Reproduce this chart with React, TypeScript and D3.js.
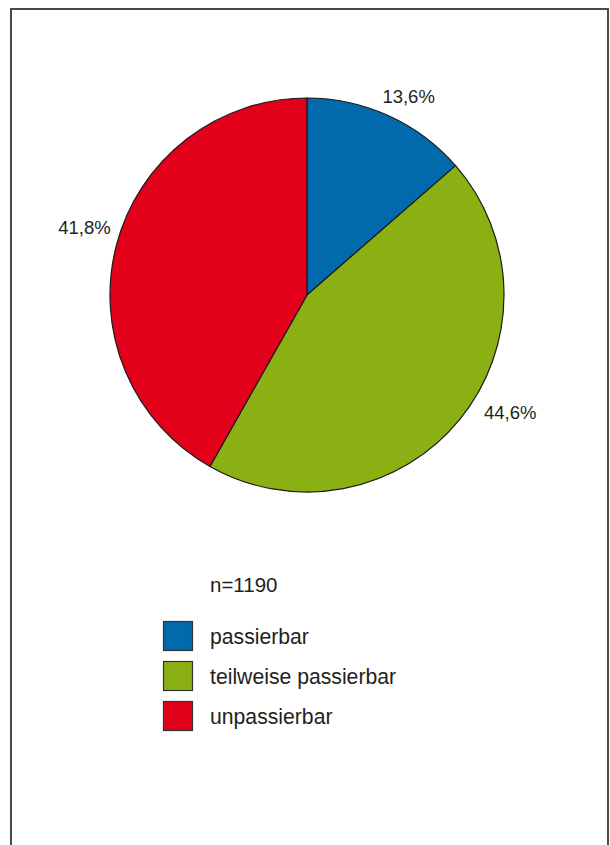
import React from "react";
import * as d3 from "d3";

const categories = ["passierbar", "teilweise passierbar", "unpassierbar"];
const values = [13.6, 44.6, 41.8];
const valueLabels = ["13,6%", "44,6%", "41,8%"];
const colors = ["#006AAC", "#8AB013", "#E2001A"];
const sampleLabel = "n=1190";
// small angular nudge (degrees) and radius for label placement
const labelAngleNudge = [2.5, -9.5, 2.5];
const labelRadius = [224, 234, 233];

const W = 610;
const H = 845;
const cx = 307;
const cy = 295;
const R = 197;

export default function App() {
  const pie = d3.pie<number>().sort(null).value((d) => d)(values);
  const arc = d3.arc<d3.PieArcDatum<number>>().innerRadius(0).outerRadius(R);
  const textColor = "#231F20";
  const font = "'Liberation Sans', Arial, sans-serif";

  return (
    <svg
      width={W}
      height={H}
      style={{ position: "absolute", left: 0, top: 0, background: "#fff" }}
      fontFamily={font}
    >
      <rect x={0} y={0} width={W} height={H} fill="#fff" />
      <rect x={11} y={9} width={597} height={H} fill="none" stroke="#4a4a4a" strokeWidth={2} />
      <g transform={`translate(${cx},${cy})`}>
        {pie.map((p, i) => (
          <path key={i} d={arc(p) || ""} fill={colors[i]} stroke="#1a1a1a" strokeWidth={1.2} />
        ))}
        {pie.map((p, i) => {
          const mid = (p.startAngle + p.endAngle) / 2 + (labelAngleNudge[i] * Math.PI) / 180;
          const x = Math.sin(mid) * labelRadius[i];
          const y = -Math.cos(mid) * labelRadius[i];
          return (
            <text
              key={"l" + i}
              x={x}
              y={y + 1.5}
              textAnchor="middle"
              dominantBaseline="central"
              fontSize={18.5}
              fill={textColor}
            >
              {valueLabels[i]}
            </text>
          );
        })}
      </g>
      <text x={210} y={592} fontSize={20.5} fill={textColor}>
        {sampleLabel}
      </text>
      {categories.map((c, i) => (
        <g key={c} transform={`translate(163, ${621 + i * 40})`}>
          <rect x={0.5} y={0.5} width={29} height={29} fill={colors[i]} stroke="#333" strokeWidth={1.2} />
          <text x={47} y={15} dominantBaseline="central" fontSize={21.2} fill={textColor}>
            {c}
          </text>
        </g>
      ))}
    </svg>
  );
}
